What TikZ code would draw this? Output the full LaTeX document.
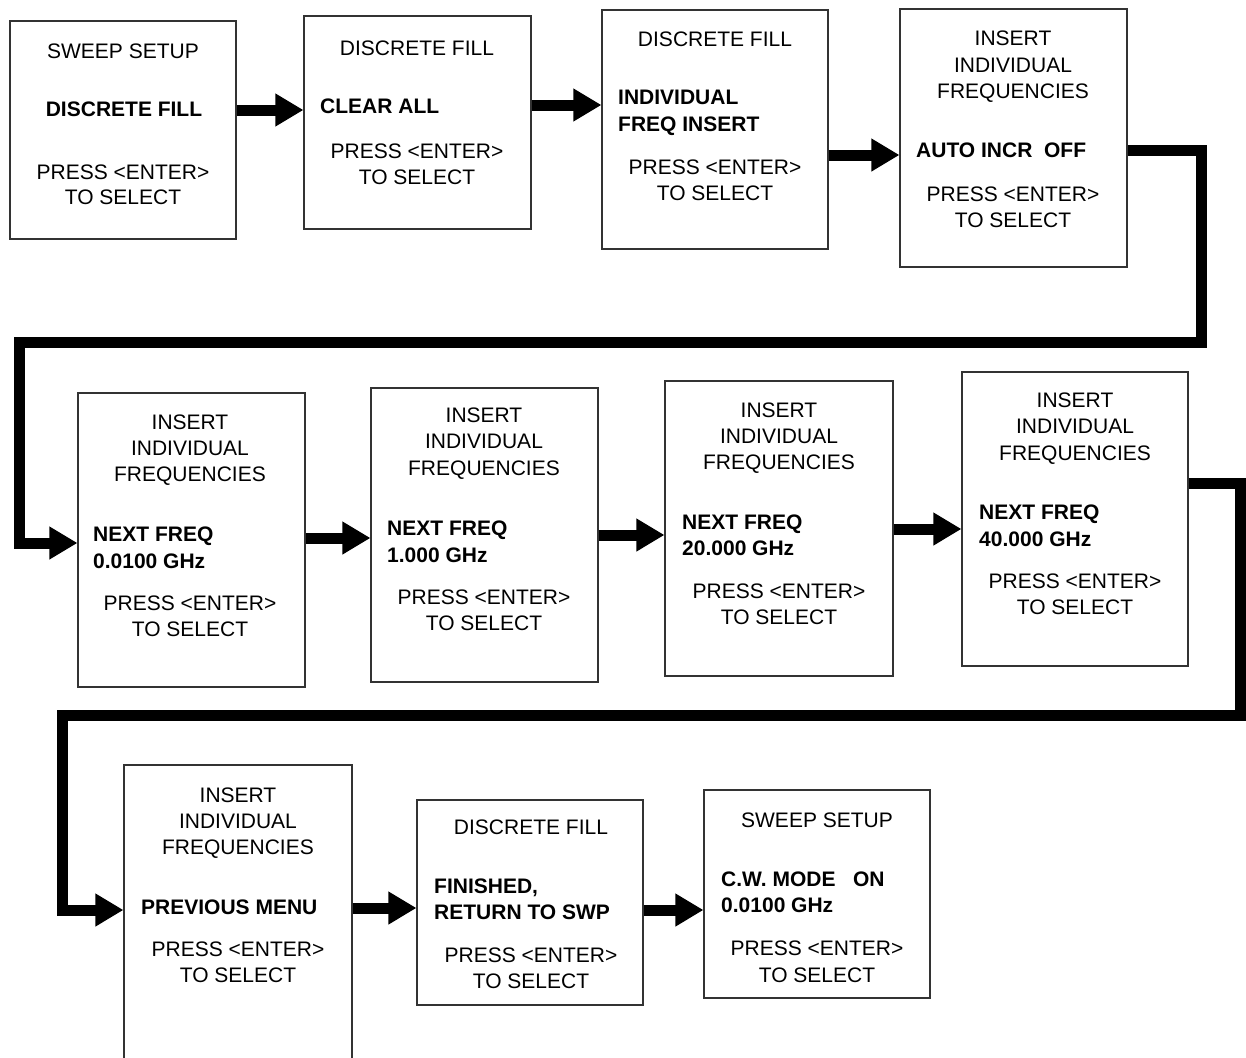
\documentclass[tikz,border=0pt]{standalone}
\usepackage{fontspec}
\setmainfont{Liberation Sans}
\usetikzlibrary{arrows.meta}
\begin{document}
\begin{tikzpicture}[x=1pt,y=-1pt,
  box/.style={draw=black!80, line width=1.1pt, rectangle, inner sep=0pt},
  lbl/.style={inner sep=0pt, text height=15pt, text depth=0pt, font=\fontsize{21}{24}\selectfont},
  blbl/.style={lbl, font=\fontsize{21}{24}\selectfont\bfseries, anchor=west},
  flow/.style={line width=11pt, -{Triangle[length=28pt,width=31pt]}, line join=miter},
]
\useasboundingbox[fill=white] (0,0) rectangle (1246,1057);

% ---------- boxes ----------
\node[box, minimum width=226pt, minimum height=218pt] (b1) at (123,130) {};
\node[box, minimum width=227pt, minimum height=213pt] (b2) at (417.5,122.5) {};
\node[box, minimum width=226pt, minimum height=239pt] (b3) at (715,129.5) {};
\node[box, minimum width=227pt, minimum height=258pt] (b4) at (1013.5,138) {};
\node[box, minimum width=227pt, minimum height=294pt] (b5) at (191.5,540) {};
\node[box, minimum width=227pt, minimum height=294pt] (b6) at (484.5,535) {};
\node[box, minimum width=228pt, minimum height=295pt] (b7) at (779,528.5) {};
\node[box, minimum width=226pt, minimum height=294pt] (b8) at (1075,519) {};
\node[box, minimum width=228pt, minimum height=320pt] (b9) at (238,925) {};
\node[box, minimum width=226pt, minimum height=205pt] (b10) at (530,902.5) {};
\node[box, minimum width=226pt, minimum height=208pt] (b11) at (817,894) {};

% ---------- texts ----------
% box 1
\node[lbl] (t1a) at (123,51) {SWEEP SETUP};
\node[lbl, font=\fontsize{21}{24}\selectfont\bfseries] (t1b) at (124,109) {DISCRETE FILL};
\node[lbl] (t1c) at (123,172) {PRESS <ENTER>};
\node[lbl] (t1d) at (123,197) {TO SELECT};
% box 2
\node[lbl] (t2a) at (417,48) {DISCRETE FILL};
\node[blbl] (t2b) at (320,106) {CLEAR ALL};
\node[lbl] (t2c) at (417,151) {PRESS <ENTER>};
\node[lbl] (t2d) at (417,177) {TO SELECT};
% box 3
\node[lbl] (t3a) at (715,39) {DISCRETE FILL};
\node[blbl] (t3b) at (618,97) {INDIVIDUAL};
\node[blbl] (t3c) at (618,124) {FREQ INSERT};
\node[lbl] (t3d) at (715,167) {PRESS <ENTER>};
\node[lbl] (t3e) at (715,193) {TO SELECT};
% box 4
\node[lbl] (t4a) at (1013,38) {INSERT};
\node[lbl] (t4b) at (1013,65) {INDIVIDUAL};
\node[lbl] (t4c) at (1013,91) {FREQUENCIES};
\node[blbl] (t4d) at (916,150) {AUTO INCR\ \ OFF};
\node[lbl] (t4e) at (1013,194) {PRESS <ENTER>};
\node[lbl] (t4f) at (1013,220) {TO SELECT};
% box 5
\node[lbl] (t5a) at (190,422) {INSERT};
\node[lbl] (t5b) at (190,448) {INDIVIDUAL};
\node[lbl] (t5c) at (190,474) {FREQUENCIES};
\node[blbl] (t5d) at (93,534) {NEXT FREQ};
\node[blbl] (t5e) at (93,561) {0.0100 GHz};
\node[lbl] (t5f) at (190,603) {PRESS <ENTER>};
\node[lbl] (t5g) at (190,629) {TO SELECT};
% box 6
\node[lbl] (t6a) at (484,415) {INSERT};
\node[lbl] (t6b) at (484,441) {INDIVIDUAL};
\node[lbl] (t6c) at (484,468) {FREQUENCIES};
\node[blbl] (t6d) at (387,528) {NEXT FREQ};
\node[blbl] (t6e) at (387,555) {1.000 GHz};
\node[lbl] (t6f) at (484,597) {PRESS <ENTER>};
\node[lbl] (t6g) at (484,623) {TO SELECT};
% box 7
\node[lbl] (t7a) at (779,410) {INSERT};
\node[lbl] (t7b) at (779,436) {INDIVIDUAL};
\node[lbl] (t7c) at (779,462) {FREQUENCIES};
\node[blbl] (t7d) at (682,522) {NEXT FREQ};
\node[blbl] (t7e) at (682,548) {20.000 GHz};
\node[lbl] (t7f) at (779,591) {PRESS <ENTER>};
\node[lbl] (t7g) at (779,617) {TO SELECT};
% box 8
\node[lbl] (t8a) at (1075,400) {INSERT};
\node[lbl] (t8b) at (1075,426) {INDIVIDUAL};
\node[lbl] (t8c) at (1075,453) {FREQUENCIES};
\node[blbl] (t8d) at (979,512) {NEXT FREQ};
\node[blbl] (t8e) at (979,539) {40.000 GHz};
\node[lbl] (t8f) at (1075,581) {PRESS <ENTER>};
\node[lbl] (t8g) at (1075,607) {TO SELECT};
% box 9
\node[lbl] (t9a) at (238,795) {INSERT};
\node[lbl] (t9b) at (238,821) {INDIVIDUAL};
\node[lbl] (t9c) at (238,847) {FREQUENCIES};
\node[blbl] (t9d) at (141,907) {PREVIOUS MENU};
\node[lbl] (t9e) at (238,949) {PRESS <ENTER>};
\node[lbl] (t9f) at (238,975) {TO SELECT};
% box 10
\node[lbl] (t10a) at (531,827) {DISCRETE FILL};
\node[blbl] (t10b) at (434,886) {FINISHED,};
\node[blbl] (t10c) at (434,912) {RETURN TO SWP};
\node[lbl] (t10d) at (531,955) {PRESS <ENTER>};
\node[lbl] (t10e) at (531,981) {TO SELECT};
% box 11
\node[lbl] (t11a) at (817,820) {SWEEP SETUP};
\node[blbl] (t11b) at (721,879) {C.W. MODE\ \ \ ON};
\node[blbl] (t11c) at (721,905) {0.0100 GHz};
\node[lbl] (t11d) at (817,948) {PRESS <ENTER>};
\node[lbl] (t11e) at (817,975) {TO SELECT};

% ---------- connectors ----------
\coordinate (y12) at (0,110);
\coordinate (y23) at (0,105);
\coordinate (y34) at (0,155);
\draw[flow] (b1.east |- y12) -- (b2.west |- y12);
\draw[flow] (b2.east |- y23) -- (b3.west |- y23);
\draw[flow] (b3.east |- y34) -- (b4.west |- y34);

\coordinate (k1) at (1201,150);
\coordinate (k2) at (19,342);
\coordinate (k3) at (0,543);
\draw[flow] (b4.east |- k1) -- (k1) |- (k2) |- (b5.west |- k3);

\coordinate (y56) at (0,538);
\coordinate (y67) at (0,535);
\coordinate (y78) at (0,529);
\draw[flow] (b5.east |- y56) -- (b6.west |- y56);
\draw[flow] (b6.east |- y67) -- (b7.west |- y67);
\draw[flow] (b7.east |- y78) -- (b8.west |- y78);

\coordinate (k4) at (1240,483);
\coordinate (k5) at (62,715);
\coordinate (k6) at (0,910);
\draw[flow] (b8.east |- k4) -- (k4) |- (k5) |- (b9.west |- k6);

\coordinate (y910) at (0,908);
\coordinate (y1011) at (0,910);
\draw[flow] (b9.east |- y910) -- (b10.west |- y910);
\draw[flow] (b10.east |- y1011) -- (b11.west |- y1011);
\end{tikzpicture}
\end{document}
